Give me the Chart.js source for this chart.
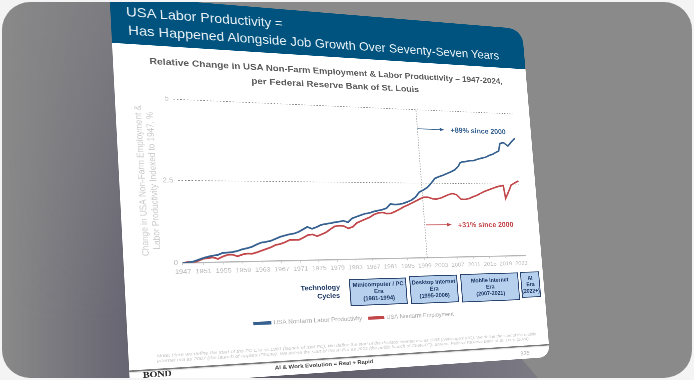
<!DOCTYPE html>
<html><head><meta charset="utf-8">
<style>
html,body{margin:0;padding:0;width:694px;height:380px;overflow:hidden;background:#f4f4f4}
#frame{position:absolute;left:2px;top:2px;width:690px;height:376px;border-radius:28px;overflow:hidden;background:#8a8a8a}
#leftshade{position:absolute;left:0;top:0;width:135px;height:376px;background:linear-gradient(90deg,rgba(100,98,112,0) 0%,rgba(100,98,112,1) 100%);-webkit-mask-image:linear-gradient(180deg,rgba(0,0,0,.45) 0%,#000 85%);mask-image:linear-gradient(180deg,rgba(0,0,0,.45) 0%,#000 85%)}
#wedge{position:absolute;left:130px;top:320px;width:408px;height:56px;background:linear-gradient(90deg,#55545f 0%,#5d5c68 40%,#6e6c79 75%,#7c7b84 100%);clip-path:polygon(0 0,358px 0,406px 56px,0 56px)}
#slide{position:absolute;left:0;top:0;width:840px;height:780px;background:#fff;transform-origin:0 0;overflow:hidden;
border-radius:0 34px 26px 0;font-family:"Liberation Sans",Arial,sans-serif;filter:blur(.6px)}
#band{position:absolute;left:0;top:0;width:840px;background:#00537e}
#slide canvas{position:absolute;left:0;top:0}
.t{position:absolute;white-space:nowrap;line-height:1}
.box{position:absolute;box-sizing:border-box;background:#b7d0ee;border:2px solid #27426b;color:#1f3a66;font-weight:bold;
font-size:12px;line-height:1.25;text-align:center;display:flex;align-items:center;justify-content:center;white-space:pre}
#rule{position:absolute;left:0;width:840px;height:3px;background:#7a7a7a;box-shadow:0 2px 2px #ddd}
</style></head><body>
<div id="frame"><div id="leftshade"></div><div id="wedge"></div><div id="slide"><div id="band"></div><canvas id="c" width="840" height="780"></canvas><div id="rule"></div></div></div>
<script src="https://cdn.jsdelivr.net/npm/chart.js@4"></script>
<script>
const productivityYears=[1947,1948,1949,1950,1951,1952,1953,1954,1955,1956,1957,1958,1959,1960,1961,1962,1963,1964,1965,1966,1967,1968,1969,1970,1971,1972,1973,1974,1975,1976,1977,1978,1979,1980,1981,1982,1983,1984,1985,1986,1987,1988,1989,1990,1991,1992,1993,1994,1995,1996,1997,1998,1999,2000,2001,2002,2003,2004,2005,2006,2007,2008,2009,2009.5,2010,2011,2012,2013,2014,2015,2016,2017,2018,2019,2019.5,2020,2020.5,2021,2021.5,2022,2022.5,2023,2024];
const productivityValues=[0,0.01,0.03,0.08,0.13,0.17,0.2,0.22,0.28,0.29,0.3,0.33,0.38,0.41,0.45,0.52,0.58,0.6,0.63,0.69,0.75,0.79,0.83,0.85,0.9,0.98,1.06,1.0,1.05,1.12,1.15,1.17,1.2,1.22,1.25,1.2,1.33,1.38,1.43,1.48,1.5,1.55,1.58,1.61,1.66,1.8,1.78,1.79,1.82,1.87,1.93,2.03,2.2,2.27,2.36,2.5,2.67,2.73,2.78,2.84,2.9,2.97,3.1,3.22,3.25,3.27,3.3,3.31,3.36,3.4,3.43,3.5,3.55,3.63,3.66,3.93,3.95,3.96,3.9,3.85,3.92,4.0,4.13];
const employmentYears=[1947,1948,1949,1950,1951,1952,1953,1954,1955,1956,1957,1958,1959,1960,1961,1962,1963,1964,1965,1966,1967,1968,1969,1970,1971,1972,1973,1974,1975,1976,1977,1978,1979,1980,1981,1982,1983,1984,1985,1986,1987,1988,1989,1990,1991,1992,1993,1994,1995,1996,1997,1998,1999,2000,2001,2002,2003,2004,2005,2006,2007,2008,2009,2010,2011,2012,2013,2014,2015,2016,2017,2018,2019,2020,2020.3,2020.7,2021,2021.5,2022,2023,2024];
const employmentValues=[0,0.02,0,0.05,0.11,0.13,0.15,0.1,0.17,0.22,0.22,0.17,0.22,0.25,0.24,0.28,0.33,0.38,0.43,0.5,0.53,0.58,0.65,0.65,0.65,0.72,0.8,0.82,0.76,0.82,0.88,0.98,1.07,1.09,1.08,1.0,1.05,1.18,1.24,1.3,1.36,1.45,1.5,1.52,1.48,1.49,1.55,1.62,1.7,1.76,1.83,1.9,1.97,2.03,2.03,1.98,1.97,2.0,2.06,2.12,2.16,2.12,1.97,1.96,1.99,2.05,2.1,2.17,2.24,2.29,2.34,2.39,2.43,2.45,2.0,2.1,2.18,2.32,2.47,2.55,2.62];
const tickYears=[1947,1951,1955,1959,1963,1967,1971,1975,1979,1983,1987,1991,1995,1999,2003,2007,2011,2015,2019,2023];
const valueTicks=[0,2.5,5];
const markerYear=[1999.7,1999.7];
const markerValue=[0,5];
const blueArrowYears=[1999.7,2006];
const redArrowYears=[2000,2006];
const blueArrowValue=4.35;
const redArrowValue=1.1;
const seriesNames=["USA Nonfarm Labor Productivity","USA Nonfarm Employment"];
const eras=[["Minicomputer / PC\nEra\n(1981-1994)",349,279,408,304],["Desktop Internet\nEra\n(1995-2006)",409,276,459,302],["Mobile Internet\nEra\n(2007-2021)",460,274,520,300],["AI\nEra\n(2022+)",520,272,541,297]];

const W=840,H=780;
const offX=2,off=2;
const Q=[[109.5,-5],[522,29],[550,357],[130,386]].map(p=>[p[0]-offX,p[1]-off]);
function solve(q){
 const [x0,y0]=q[0],[x1,y1]=q[1],[x2,y2]=q[2],[x3,y3]=q[3];
 const dx1=x1-x2,dx2=x3-x2,sx=x0-x1+x2-x3,dy1=y1-y2,dy2=y3-y2,sy=y0-y1+y2-y3;
 const den=dx1*dy2-dx2*dy1;
 const g=(sx*dy2-dx2*sy)/den,h=(dx1*sy-sx*dy1)/den;
 return {a:x1-x0+g*x1,b:x3-x0+h*x3,c:x0,d:y1-y0+g*y1,e:y3-y0+h*y3,f:y0,g,h};
}
const M=solve(Q);
const slide=document.getElementById('slide');
slide.style.transform=`matrix3d(${M.a/W},${M.d/W},0,${M.g/W},${M.b/H},${M.e/H},0,${M.h/H},0,0,1,0,${M.c},${M.f},0,1)`;
function inv(x,y){ x-=offX;y-=off;
 const {a,b,c,d,e,f,g,h}=M;
 const A=e-f*h,B=c*h-b,C=b*f-c*e,D=f*g-d,E=a-c*g,F=c*d-a*f,G=d*h-e*g,I2=b*g-a*h,J=a*e-b*d;
 const w=G*x+I2*y+J;
 return [(A*x+B*y+C)/w*W,(D*x+E*y+F)/w*H];
}
function put(s,sx,sy,o){
 const p=inv(sx,sy),el=document.createElement('div');el.className='t';el.textContent=s;
 el.style.left=p[0]+'px';el.style.top=p[1]+'px';
 el.style.fontSize=o.size+'px';el.style.color=o.color;
 if(o.weight)el.style.fontWeight=o.weight;if(o.style)el.style.fontStyle=o.style;if(o.family)el.style.fontFamily=o.family;
 const ax=o.align=='center'?'-50%':o.align=='right'?'-100%':'0';
 el.style.transformOrigin=o.align?'50% 50%':'0 50%';
 el.style.transform=`translate(${ax},-50%)`+(o.sx?` scaleX(${o.sx})`:'');
 slide.appendChild(el);
}
document.getElementById('band').style.height=((inv(111,42)[1]+inv(524,70)[1])/2)+'px';
document.getElementById('rule').style.top=((inv(130,369)[1]+inv(540,346)[1])/2)+'px';

put("USA Labor Productivity =",126,12,{size:28,color:"#e9f1f6",sx:.925});
put("Has Happened Alongside Job Growth Over Seventy-Seven Years",128,30.5,{size:28,color:"#e9f1f6",sx:.925});
put("Relative Change in USA Non-Farm Employment & Labor Productivity – 1947-2024,",339,72,{size:18.5,color:"#5a5a5a",weight:"bold",align:"center"});
put("per Federal Reserve Bank of St. Louis",338,85,{size:19,color:"#5a5a5a",weight:"bold",align:"center"});
put("Technology",340,287,{size:14,color:"#1f3a66",weight:"bold",align:"right"});
put("Cycles",340,295.5,{size:14,color:"#1f3a66",weight:"bold",align:"right"});
put("Note: Here we define the start of the PC Era as 1981 (launch of IBM PC). We define the start of the desktop internet era as 1995 (Netscape's IPO). We define the start of the mobile",157,356,{size:9.6,color:"#c4c4c4",style:"italic"});
put("internet era as 2007 (the launch of Apple's iPhone). We define the start of the AI Era as 2022 (the public launch of ChatGPT). Source: Federal Reserve Bank of St. Louis (2024)",157,361,{size:9.6,color:"#c4c4c4",style:"italic"});
put("AI & Work Evolution = Real + Rapid",325,365,{size:11.5,color:"#444",weight:"bold",align:"center"});
put("335",525,353,{size:13,color:"#aaa",align:"center"});
put("BOND",143,375,{size:17,color:"#222",weight:"bold",family:'"Liberation Serif",serif'});
eras.forEach(e=>{
 const p=inv(e[1],e[2]),r=inv(e[3],e[4]),b=document.createElement('div');b.className='box';
 b.style.left=p[0]+'px';b.style.top=p[1]+'px';b.style.width=(r[0]-p[0])+'px';b.style.height=(r[1]-p[1])+'px';
 b.textContent=e[0];slide.appendChild(b);
});

const avg=(a,b)=>(a+b)/2;
const L=avg(inv(173,98)[0],inv(183,264)[0]),R=avg(inv(513,115)[0],inv(527,258)[0]);
const T=avg(inv(173,98)[1],inv(513,115)[1]),B=avg(inv(183,264)[1],inv(527,258)[1]);
const yW=L-inv(137,185)[0];
const legC=avg(inv(270,321)[1],inv(430,317)[1]);
const padBottom=H-legC-16;
const xH=H-B-padBottom-32;
const zip=(xs,ys)=>xs.map((x,i)=>({x,y:ys[i]}));
const BLUE="#35608f",RED="#c2474a";
const notes={
 id:'notes',
 afterLayout(ch){ch.legend.left+=10;ch.legend.right+=10;},
 afterDatasetsDraw(ch){
  const c=ch.ctx,x=ch.scales.x,y=ch.scales.y;
  const arrow=(xs,v,col,label)=>{
   const a=x.getPixelForValue(xs[0]),b=x.getPixelForValue(xs[1]),p=y.getPixelForValue(v);
   c.save();c.strokeStyle=col;c.fillStyle=col;c.lineWidth=1.6;
   c.beginPath();c.moveTo(a,p);c.lineTo(b,p);c.stroke();
   c.beginPath();c.moveTo(b+2,p);c.lineTo(b-8,p-4);c.lineTo(b-8,p+4);c.closePath();c.fill();
   c.font='bold 16px "Liberation Sans"';c.textBaseline='middle';c.fillText(label,b+16,p+2);c.restore();
  };
  arrow(blueArrowYears,blueArrowValue,BLUE,"+89% since 2000");
  arrow(redArrowYears,redArrowValue,RED,"+31% since 2000");
 }
};
new Chart(document.getElementById('c'),{
 type:'line',
 data:{datasets:[
  {label:seriesNames[0],data:zip(productivityYears,productivityValues),borderColor:BLUE,backgroundColor:BLUE,borderWidth:3.6,pointRadius:0,tension:0},
  {label:seriesNames[1],data:zip(employmentYears,employmentValues),borderColor:RED,backgroundColor:RED,borderWidth:3.6,pointRadius:0,tension:0},
  {label:"2000",data:zip(markerYear,markerValue),borderColor:"#777",borderWidth:1.1,borderDash:[3,3],pointRadius:0}
 ]},
 plugins:[notes],
 options:{
  responsive:false,animation:false,devicePixelRatio:1,
  layout:{padding:{left:L-yW,right:W-R,top:T,bottom:padBottom}},
  plugins:{
   title:{display:false},tooltip:{enabled:false},
   legend:{position:'bottom',labels:{filter:i=>i.datasetIndex<2,boxWidth:30,boxHeight:3,color:"#a6a6a6",font:{size:12,family:'"Liberation Sans"'},padding:14}}
  },
  scales:{
   x:{type:'linear',min:1947,max:2024.3,
    afterBuildTicks:s=>{s.ticks=tickYears.map(v=>({value:v}))},
    afterFit:s=>{s.height=xH},
    grid:{drawOnChartArea:false,drawTicks:true,tickLength:5,color:"#bbb"},
    border:{color:"#b5b5b5",width:2.5},
    ticks:{color:"#bbbbbb",font:{size:13,family:'"Liberation Sans"'},maxRotation:0,autoSkip:false,padding:5,callback:v=>String(v)}
   },
   y:{min:0,max:5,
    afterBuildTicks:s=>{s.ticks=valueTicks.map(v=>({value:v}))},
    afterFit:s=>{s.width=yW},
    grid:{color:c=>c.tick.value===0?"rgba(0,0,0,0)":"#777",lineWidth:1.1,borderDash:[3,3],drawTicks:false,z:0},
    border:{display:false,dash:[3,3]},
    ticks:{color:"#bdbdbd",font:{size:14,family:'"Liberation Sans"'},padding:8,callback:v=>String(v)},
    title:{display:true,text:["Change in USA Non-Farm Employment &","Labor Productivity Indexed to 1947, %"],color:"#cbcbcb",font:{size:16.5,family:'"Liberation Sans"'},padding:{top:0,bottom:0}}
   }
  }
 }
});
</script>
</body></html>
